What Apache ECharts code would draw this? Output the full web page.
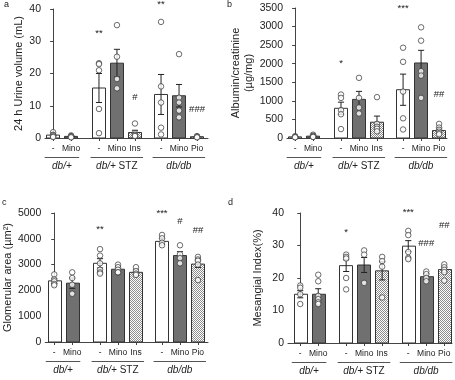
<!DOCTYPE html>
<html><head><meta charset="utf-8">
<script src="https://cdn.jsdelivr.net/npm/echarts@6/dist/echarts.min.js"></script>
<style>html,body{margin:0;padding:0;background:#fff}#c{width:455px;height:380px}</style>
</head><body><div id="c"></div>
<script>
// ---------- data ----------
const tickLabels = ['-', 'Mino', '-', 'Mino', 'Ins', '-', 'Mino', 'Pio'];
const groupNames = ['{i|db/+}', '{i|db/+} STZ', '{i|db/db}'];
const groupMembers = [[0, 1], [2, 3, 4], [5, 6, 7]];
const fillKinds = ['white', 'dark', 'white', 'dark', 'hatch', 'white', 'dark', 'hatch'];

// a: 24 h urine volume (mL)
const urineMean = [0.9, 0.5, 15.5, 23.2, 1.7, 13.5, 13.1, 0.4];
const urineSem  = [0.3, 0.15, 4.5, 4.3, 0.7, 6.2, 3.5, 0.1];
const urinePts  = [[1.8, 1.0, 0.8, 0.5, 0.3], [0.8, 0.6, 0.5, 0.3, 0.2], [23.2, 22.9, 21.0, 9.0, 1.5],
                   [35, 25.2, 18.3, 15.4], [4.5, 1.5, 1.0, 0.8, 0.6], [36, 16, 11, 3.2, 1.1],
                   [26, 12.5, 11, 8.5, 6.4], [0.6, 0.4, 0.3, 0.2]];
const urineSig  = ['', '', '**', '', '#', '**', '', '###'];
const urineSigY = [0, 0, 32.5, 0, 12.5, 41.5, 0, 9];

// b: albumin/creatinine (µg/mg)
const albMean = [30, 50, 800, 1040, 425, 1300, 2020, 200];
const albSem  = [10, 15, 165, 215, 165, 420, 340, 65];
const albPts  = [[50, 30, 20, 20], [90, 60, 40, 30, 30], [1170, 1080, 750, 640, 240],
                 [1620, 1080, 820, 660], [1100, 380, 300, 250, 180], [2430, 2050, 1250, 530, 230],
                 [2980, 2620, 1800, 1680, 1080], [380, 280, 220, 170, 130, 100]];
const albSig  = ['', '', '*', '', '', '***', '', '##'];
const albSigY = [0, 0, 2016, 0, 0, 3500, 0, 1179];

// c: glomerular area (µm²)
const gloMean = [2370, 2280, 3050, 2820, 2700, 3900, 3350, 3020];
const gloSem  = [100, 200, 180, 110, 100, 120, 150, 130];
const gloPts  = [[2620, 2420, 2350, 2250, 2200], [2700, 2480, 2220, 1870], [3600, 3350, 3050, 2800, 2700, 2650],
                 [3000, 2900, 2800, 2700, 2700], [2900, 2750, 2650, 2600], [4150, 4020, 3850, 3750],
                 [3750, 3400, 3250, 3050], [3300, 3200, 3150, 3000, 2400]];
const gloSig  = ['', '', '**', '', '', '***', '#', '##'];
const gloSigY = [0, 0, 4380, 0, 0, 5000, 4670, 4330];

// d: mesangial index (%)
const mesMean = [15, 15, 23.8, 24, 22.2, 29.8, 20.4, 22.6];
const mesSem  = [1.1, 1.7, 1.8, 2.3, 2.8, 1.7, 0.9, 0.8];
const mesPts  = [[17.7, 17, 15, 12], [21, 19, 14.5, 13.5, 12.5, 12], [27.2, 26.5, 26, 20, 16.5],
                 [28.5, 27.2, 18.5], [26.5, 25.2, 23.5, 14], [34.5, 33.2, 28, 26.2, 25.8],
                 [22, 21.2, 20, 19], [24.2, 23.3, 22.5, 21.8, 19.2]];
const mesSig  = ['', '', '*', '', '', '***', '###', '##'];
const mesSigY = [0, 0, 34, 0, 0, 40.2, 30.8, 36.1];

// ---------- layout ----------
const positions = [0, 1, 2.55, 3.55, 4.55, 6, 7, 8];
const FONT = 'Liberation Sans, Arial, sans-serif';

const pc = document.createElement('canvas');
pc.width = 2; pc.height = 2;
const pctx = pc.getContext('2d');
pctx.fillStyle = '#ffffff'; pctx.fillRect(0, 0, 2, 2);
pctx.fillStyle = '#8c8c8c'; pctx.fillRect(0, 0, 1, 1); pctx.fillRect(1, 1, 1, 1);
const hatch = { image: pc, repeat: 'repeat' };
const fills = { white: '#ffffff', dark: '#707070', hatch: hatch };

const panels = [
  { grid: { left: 45, top: 9, width: 163, height: 129 }, xmin: -0.45, xmax: 8.61, ymax: 40, step: 10,
    name: '24 h Urine volume (mL)', gap: 17, mean: urineMean, sem: urineSem, pts: urinePts, sig: urineSig, sigY: urineSigY },
  { grid: { left: 287, top: 8, width: 160, height: 130 }, xmin: -0.45, xmax: 8.44, ymax: 3500, step: 500,
    name: 'Albumin/creatinine\n(µg/mg)', gap: 30, mean: albMean, sem: albSem, pts: albPts, sig: albSig, sigY: albSigY },
  { grid: { left: 45, top: 213, width: 163, height: 129 }, xmin: -0.5, xmax: 8.56, ymax: 5000, step: 1000,
    name: 'Glomerular area (µm²)', gap: 28, mean: gloMean, sem: gloSem, pts: gloPts, sig: gloSig, sigY: gloSigY },
  { grid: { left: 288, top: 213, width: 164, height: 130 }, xmin: -0.68, xmax: 8.43, ymax: 40, step: 10,
    name: 'Mesangial Index(%)', gap: 24, mean: mesMean, sem: mesSem, pts: mesPts, sig: mesSig, sigY: mesSigY }
];

function nearestIdx(v) {
  let b = 0;
  positions.forEach((p, i) => { if (Math.abs(p - v) < Math.abs(positions[b] - v)) b = i; });
  return b;
}

const grids = [], xAxes = [], yAxes = [], series = [];
panels.forEach((P, gi) => {
  grids.push(P.grid);
  xAxes.push({
    gridIndex: gi, type: 'value', min: P.xmin, max: P.xmax,
    axisLine: { show: true, onZero: false, lineStyle: { color: '#444', width: 1 } },
    axisTick: { show: true, customValues: positions, length: 3, lineStyle: { color: '#444' } },
    axisLabel: { show: true, customValues: positions, formatter: v => tickLabels[nearestIdx(v)],
                 fontSize: 8.5, color: '#222', margin: 6, fontFamily: FONT },
    splitLine: { show: false }
  });
  yAxes.push({
    gridIndex: gi, type: 'value', min: 0, max: P.ymax, interval: P.step,
    axisLine: { show: true, lineStyle: { color: '#444', width: 1 } },
    axisTick: { show: true, length: 3, lineStyle: { color: '#444' } },
    axisLabel: { fontSize: 10.5, color: '#222', margin: 4, fontFamily: FONT, formatter: v => String(v) },
    splitLine: { show: false },
    name: P.name, nameLocation: 'middle', nameRotate: 90, nameGap: P.gap,
    nameTextStyle: { fontSize: 11, color: '#222', fontFamily: FONT, lineHeight: 13 }
  });
  // bars + error bars + significance marks
  const barData = P.mean.map((m, i) => [positions[i], m, P.sem[i], i]);
  series.push({
    type: 'custom', xAxisIndex: gi, yAxisIndex: gi, clip: false, z: 2,
    data: barData,
    renderItem: (params, api) => {
      const x = api.value(0), m = api.value(1), s = api.value(2), i = api.value(3);
      const hw = 0.37, cw = 0.17;
      const tl = api.coord([x - hw, m]), br = api.coord([x + hw, 0]);
      const children = [{
        type: 'rect',
        shape: { x: Math.round(tl[0]) + 0.5, y: tl[1], width: Math.round(br[0] - tl[0]), height: br[1] - tl[1] },
        style: { fill: fills[fillKinds[i]], stroke: '#333', lineWidth: 1 }
      }];
      const top = api.coord([x, m + s]), bot = api.coord([x, Math.max(0, m - s)]);
      const cl = api.coord([x - cw, 0])[0], cr = api.coord([x + cw, 0])[0];
      children.push({ type: 'line', shape: { x1: top[0], y1: top[1], x2: bot[0], y2: bot[1] }, style: { stroke: '#222', lineWidth: 1 } });
      children.push({ type: 'line', shape: { x1: cl, y1: top[1], x2: cr, y2: top[1] }, style: { stroke: '#222', lineWidth: 1 } });
      children.push({ type: 'line', shape: { x1: cl, y1: bot[1], x2: cr, y2: bot[1] }, style: { stroke: '#222', lineWidth: 1 } });
      if (P.sig[i]) {
        const sp = api.coord([x, P.sigY[i]]);
        children.push({ type: 'text', z2: 10, style: { text: P.sig[i], x: sp[0], y: sp[1], align: 'center', verticalAlign: 'middle',
          fontSize: 9.5, fontFamily: FONT, fill: '#222' } });
      }
      return { type: 'group', children };
    }
  });
  // individual points
  const ptData = [];
  P.pts.forEach((arr, i) => arr.forEach(v => ptData.push([positions[i], v])));
  series.push({
    type: 'scatter', xAxisIndex: gi, yAxisIndex: gi, z: 5, clip: false,
    symbol: 'circle', symbolSize: 5.5, data: ptData,
    itemStyle: { color: '#ffffff', borderColor: '#333', borderWidth: 0.9 },
    emphasis: { disabled: true }
  });
  // group lines and group names under the axis
  series.push({
    type: 'custom', xAxisIndex: gi, yAxisIndex: gi, clip: false, z: 3,
    data: groupMembers.map((m, g) => [g, 0]),
    renderItem: (params, api) => {
      const g = api.value(0);
      const xs = groupMembers[g].map(i => positions[i]);
      const l = api.coord([Math.min(...xs) - 0.47, 0]);
      const r = api.coord([Math.max(...xs) + 0.45, 0]);
      const yl = l[1] + 19.5;
      return { type: 'group', children: [
        { type: 'line', shape: { x1: l[0], y1: yl, x2: r[0], y2: yl }, style: { stroke: '#555', lineWidth: 1 } },
        { type: 'text', style: { text: groupNames[g], x: (l[0] + r[0]) / 2, y: l[1] + 28.5, align: 'center', verticalAlign: 'middle',
          fontSize: 10, fontFamily: FONT, fill: '#222', rich: { i: { fontStyle: 'italic', fontSize: 10, fontFamily: FONT, fill: '#222' } } } }
      ] };
    }
  });
});

const chart = echarts.init(document.getElementById('c'), null, { renderer: 'canvas' });
chart.setOption({
  animation: false,
  backgroundColor: '#fff',
  grid: grids, xAxis: xAxes, yAxis: yAxes, series,
  graphic: [
    { type: 'text', left: 4, top: 0, style: { text: 'a', fontSize: 9, fontFamily: FONT, fill: '#222' } },
    { type: 'text', left: 227, top: 0, style: { text: 'b', fontSize: 9, fontFamily: FONT, fill: '#222' } },
    { type: 'text', left: 2, top: 198, style: { text: 'c', fontSize: 9, fontFamily: FONT, fill: '#222' } },
    { type: 'text', left: 228, top: 198, style: { text: 'd', fontSize: 9, fontFamily: FONT, fill: '#222' } }
  ]
});
</script></body></html>
